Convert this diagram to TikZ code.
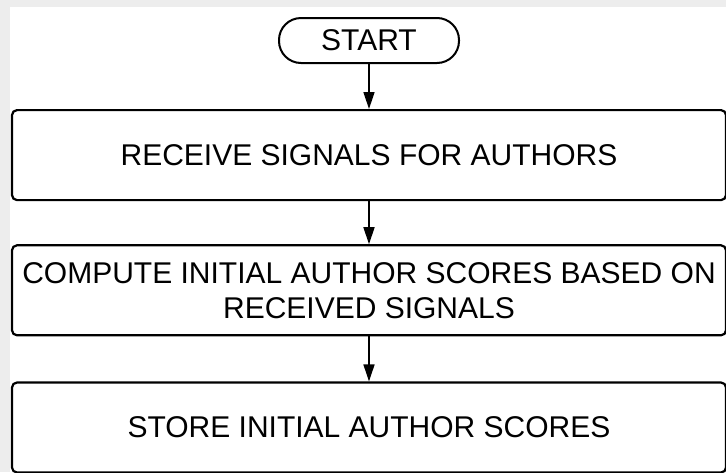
\documentclass[tikz,border=0pt]{standalone}
\usepackage{fontspec}
\setmainfont{Liberation Sans}
\usetikzlibrary{positioning,arrows.meta}

\begin{document}
\begin{tikzpicture}[x=1pt,y=-1pt,auto,>={Triangle[width=11pt,length=17pt]},font=\fontsize{30}{35}\selectfont]
    \tikzstyle{rec}=[line width=2.2pt,draw=black,rectangle,rounded corners=5pt,minimum width=714pt,minimum height=90pt,align=center,inner sep=0pt]
    \tikzstyle{term}=[line width=2pt,draw=black,rectangle,rounded corners=22pt,minimum width=180pt,minimum height=45pt,inner sep=0pt]
    \tikzstyle{flow}=[line width=1.6pt,->]

    % page and margins
    \useasboundingbox (0,0) rectangle (726,472);
    \fill[black!7] (0,0) rectangle (726,472);
    \fill[white] (10,7) rectangle (726,472);

    \node[term] (start) at (369,40.5) {START};
    \node[rec, below=45pt of start] (receive) {RECEIVE SIGNALS FOR AUTHORS};
    \node[rec, below=43pt of receive] (compute) {COMPUTE INITIAL AUTHOR SCORES BASED ON\\RECEIVED SIGNALS};
    \node[rec, below=45pt of compute] (store) {STORE INITIAL AUTHOR SCORES};

    \draw[flow] (start) to (receive);
    \draw[flow] (receive) to (compute);
    \draw[flow] (compute) to (store);

\end{tikzpicture}
\end{document}
